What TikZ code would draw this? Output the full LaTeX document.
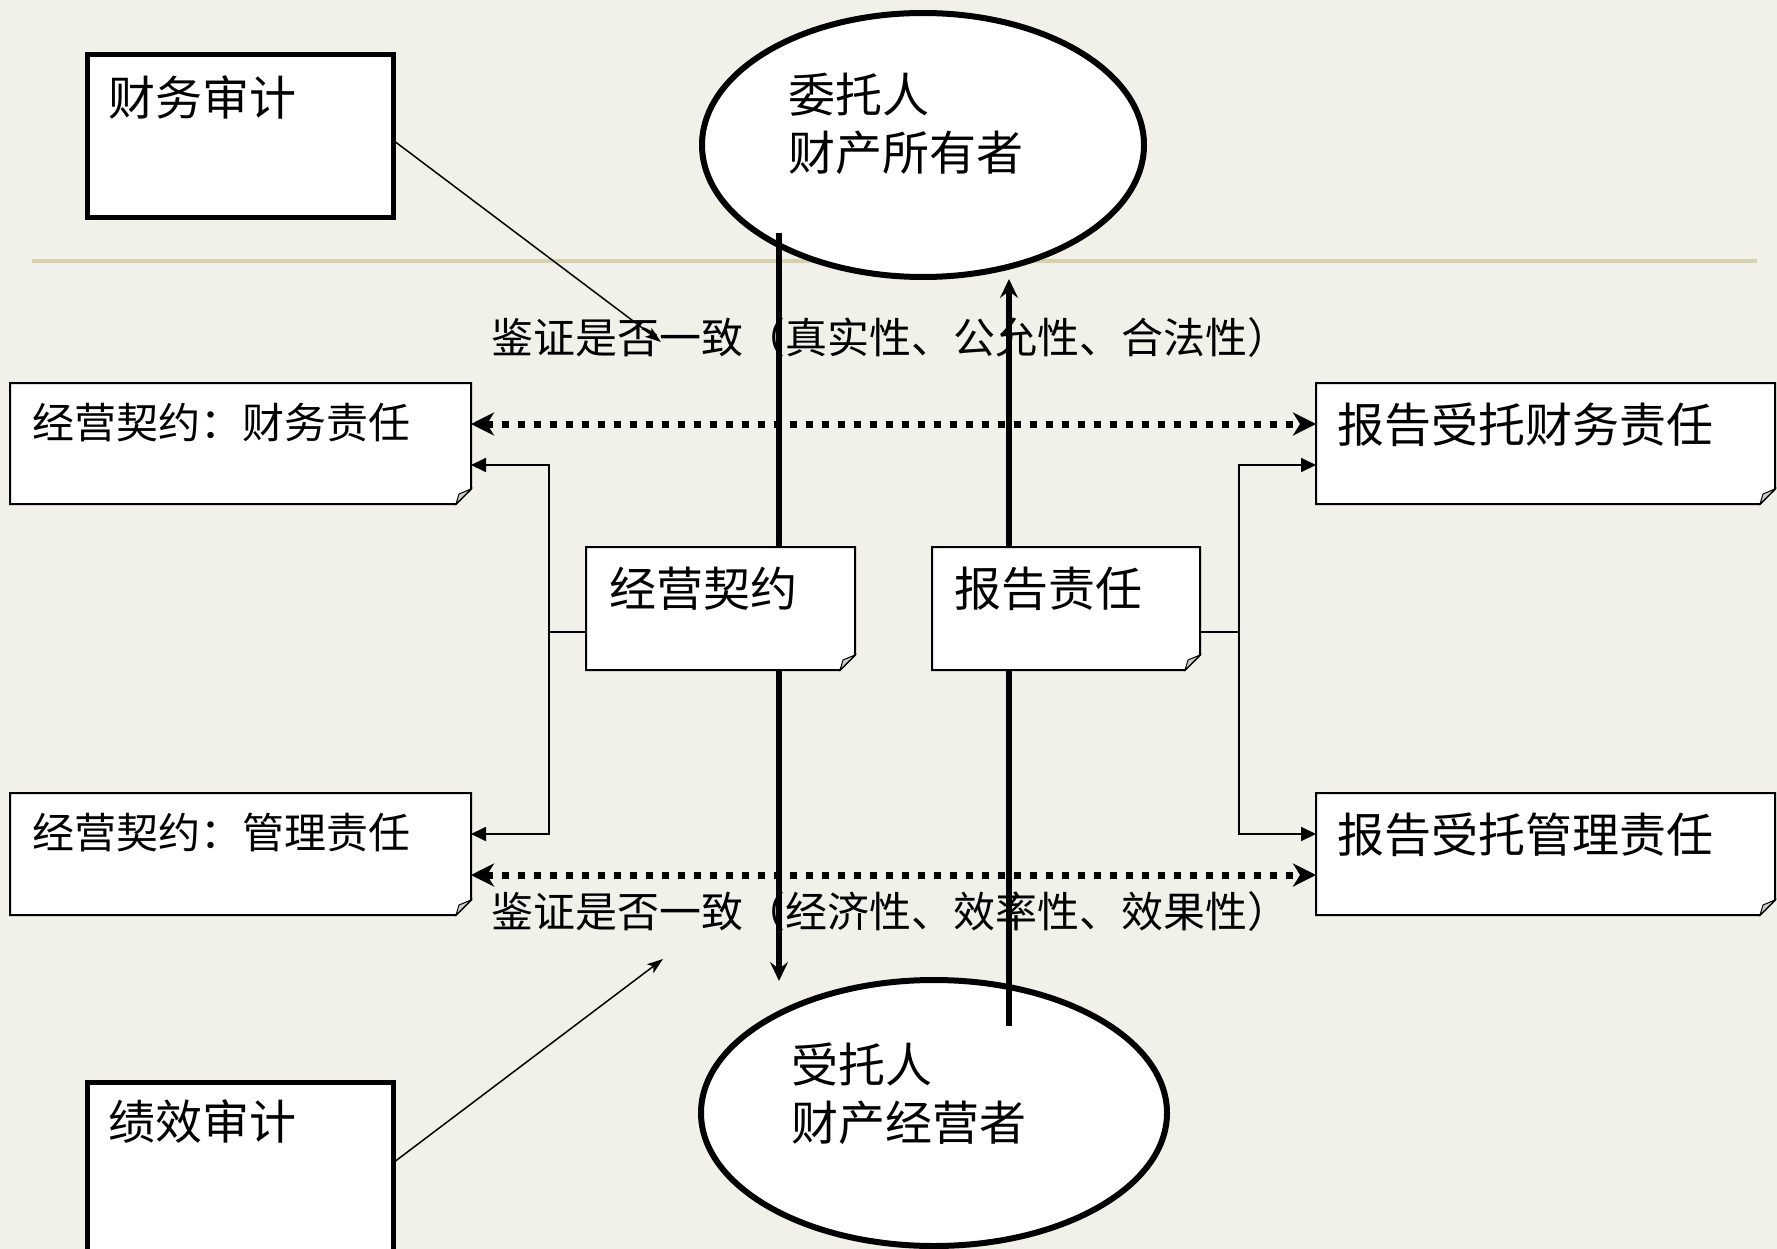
\documentclass[tikz,border=0pt]{standalone}
\usepackage{fontspec}
\setmainfont{Noto Sans CJK SC}
\usetikzlibrary{arrows.meta,shapes.geometric}
\pgfdeclarelayer{lines}
\pgfdeclarelayer{boxes}
\pgfdeclarelayer{front}
\pgfsetlayers{main,lines,boxes,front}
\newcommand\fontA{\fontsize{47pt}{58pt}\selectfont}
\newcommand\fontB{\fontsize{42pt}{50pt}\selectfont}
\definecolor{bgc}{RGB}{241,240,233}
\definecolor{beigeline}{RGB}{214,208,172}
\definecolor{foldc}{RGB}{205,205,205}
\newcommand\noteshape[1]{%
  \filldraw[boxline] (#1.north west) -- (#1.north east) -- ([yshift=15pt]#1.south east)
    -- ([xshift=-15pt]#1.south east) -- (#1.south west) -- cycle;
  \filldraw[foldline] ([yshift=15pt]#1.south east) -- ([xshift=-12pt,yshift=10pt]#1.south east)
    -- ([xshift=-15pt]#1.south east) -- cycle;}
\begin{document}
\begin{tikzpicture}[x=1pt,y=-1pt,
  txtA/.style={font=\fontA, inner sep=0pt, anchor=west, align=left},
  txtB/.style={font=\fontB, inner sep=0pt, anchor=west},
  notebox/.style={rectangle, inner sep=0pt, outer sep=0pt},
  boxline/.style={draw=black, fill=white, line width=2pt, line join=miter},
  foldline/.style={draw=black, fill=foldc, line width=1pt},
  auditbox/.style={rectangle, draw=black, fill=white, line width=5pt, inner sep=0pt, outer sep=0pt},
  party/.style={ellipse, draw=black, fill=white, line width=6pt, inner sep=0pt, outer sep=0pt},
  varrow/.style={line width=5.5pt, -{Stealth[length=19pt,width=18pt,inset=7pt]}},
  dotarrow/.style={line width=7pt, dash pattern=on 7pt off 9pt,
    {Stealth[length=23pt,width=23pt,inset=7pt]}-{Stealth[length=23pt,width=23pt,inset=7pt]}},
  elbow/.style={line width=1.8pt},
  elbowarrow/.style={line width=1.8pt, -{Triangle[length=15pt,width=14pt]}},
  thinarrow/.style={line width=1.5pt, -{Stealth[length=16pt,width=11pt,inset=4pt]}}
]
\useasboundingbox (0,0) rectangle (1777,1249);
\clip (0,0) rectangle (1777,1249);
\fill[bgc] (0,0) rectangle (1777,1249);
\draw[beigeline, line width=4pt] (32,261) -- (1757,261);

% audit boxes
\node[auditbox, minimum width=306pt, minimum height=163pt] (fa) at (240.5,136) {};
\node[txtA] (fat) at (108,97) {财务审计};
\node[auditbox, anchor=north west, minimum width=306pt, minimum height=220pt] (pa) at (87.5,1082.5) {};
\node[txtA] (pat) at (108,1122) {绩效审计};

% parties
\node[party, minimum width=442pt, minimum height=264pt] (own) at (923,145) {};
\node[txtA] (ownt) at (788,124) {委托人\\财产所有者};
\node[party, minimum width=466pt, minimum height=266pt] (mgr) at (934,1113) {};
\node[txtA] (mgrt) at (791,1094) {受托人\\财产经营者};

% verification labels
\node[txtB] (v1) at (491,338) {鉴证是否一致（真实性、公允性、合法性）};
\node[txtB] (v2) at (491,912) {鉴证是否一致（经济性、效率性、效果性）};

% note boxes
\node[notebox, minimum width=461pt, minimum height=121pt] (lb1) at (240.5,443.5) {};
\node[notebox, minimum width=461pt, minimum height=122pt] (lb2) at (240.5,854) {};
\node[notebox, minimum width=459pt, minimum height=121pt] (rb1) at (1545.5,443.5) {};
\node[notebox, minimum width=459pt, minimum height=122pt] (rb2) at (1545.5,854) {};
\node[notebox, minimum width=269pt, minimum height=123pt] (cb1) at (720.5,608.5) {};
\node[notebox, minimum width=268pt, minimum height=123pt] (cb2) at (1066,608.5) {};

\begin{pgfonlayer}{boxes}
\noteshape{lb1}
\noteshape{lb2}
\noteshape{rb1}
\noteshape{rb2}
\noteshape{cb1}
\noteshape{cb2}
\end{pgfonlayer}

\begin{pgfonlayer}{front}
\node[txtB] (lb1t) at (32,423) {经营契约：财务责任};
\node[txtB] (lb2t) at (32,833) {经营契约：管理责任};
\node[txtA] (rb1t) at (1337,425) {报告受托财务责任};
\node[txtA] (rb2t) at (1337,835) {报告受托管理责任};
\node[txtA] (cb1t) at (609,589) {经营契约};
\node[txtA] (cb2t) at (954,589) {报告责任};
\end{pgfonlayer}

\coordinate (dtop) at (779,233);
\coordinate (dbot) at (779,981);
\coordinate (ubot) at (1009,1026);
\coordinate (utop) at (1009,279);
\coordinate (jl) at (549,632);
\coordinate (jr) at (1239,632);
\coordinate (fatip) at (661,342);
\coordinate (patip) at (663,959);

\begin{pgfonlayer}{lines}
\draw[varrow] (dtop) -- (dbot);
\draw[varrow] (ubot) -- (utop);
\draw[dotarrow] ([yshift=-41pt]lb1.north east) -- ([yshift=-41pt]rb1.north west);
\draw[dotarrow] ([yshift=-82pt]lb2.north east) -- ([yshift=-82pt]rb2.north west);
\draw[elbow] (cb1.west |- jl) -- (jl);
\draw[elbowarrow] (jl) |- ([yshift=-82pt]lb1.north east);
\draw[elbowarrow] (jl) |- ([yshift=-41pt]lb2.north east);
\draw[elbow] (cb2.east |- jr) -- (jr);
\draw[elbowarrow] (jr) |- ([yshift=-82pt]rb1.north west);
\draw[elbowarrow] (jr) |- ([yshift=-41pt]rb2.north west);
\draw[thinarrow] ([yshift=-86pt]fa.north east) -- (fatip);
\draw[thinarrow] ([yshift=-80pt]pa.north east) -- (patip);
\end{pgfonlayer}
\end{tikzpicture}
\end{document}
